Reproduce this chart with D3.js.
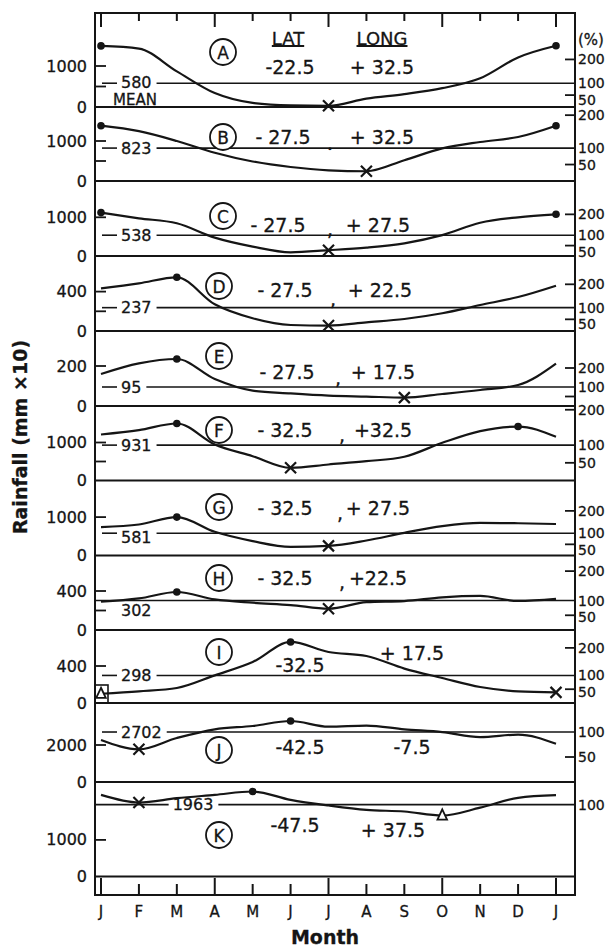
<!DOCTYPE html>
<html>
<head>
<meta charset="utf-8">
<script src="https://cdn.jsdelivr.net/npm/d3@7"></script>
<style>
  body { margin: 0; background: #fff; }
  svg text { font-family: "DejaVu Sans", "Liberation Sans", Arial, sans-serif; fill: #151515; stroke: #151515; stroke-width: 0.3; }
</style>
</head>
<body>
<svg id="chart" width="616" height="947"></svg>
<script>
// ---- data (mm x10 per month, J..J) ----
var months = ["J","F","M","A","M","J","J","A","S","O","N","D","J"];
var panels = ["A","B","C","D","E","F","G","H","I","J","K"];
var lats  = ["-22.5","- 27.5","- 27.5","- 27.5","- 27.5","- 32.5","- 32.5","- 32.5","-32.5","-42.5","-47.5"];
var longs = ["+ 32.5","+ 32.5","+ 27.5","+ 22.5","+ 17.5","+32.5","+ 27.5","+22.5","+ 17.5","-7.5","+ 37.5"];
var seps  = ["","\u2022",",",",",",",",",",",",","","",""];
var means = [580, 823, 538, 237, 95, 931, 581, 302, 298, 2702, 1963];

var rainA = [1490, 1425, 870, 340, 100, 40, 30, 205, 315, 460, 700, 1210, 1495];
var rainB = [1383, 1245, 1000, 707, 488, 350, 268, 244, 520, 815, 975, 1100, 1383];
var rainC = [1121, 974, 845, 475, 243, 96, 150, 217, 328, 538, 860, 1000, 1078];
var rainD = [433, 484, 545, 271, 129, 61, 55, 88, 122, 180, 264, 345, 460];
var rainE = [160, 213, 235, 135, 77, 63, 52, 47, 42, 60, 80, 105, 212];
var rainF = [1210, 1324, 1500, 947, 640, 334, 421, 508, 624, 992, 1300, 1420, 1150];
var rainG = [740, 807, 1000, 617, 375, 225, 250, 390, 591, 765, 851, 840, 820];
var rainH = [290, 324, 390, 314, 280, 256, 218, 285, 297, 335, 349, 298, 320];
var rainI = [100, 126, 162, 299, 443, 660, 551, 508, 372, 270, 173, 126, 115];
var rainJ = [2270, 1767, 2380, 2849, 3027, 3297, 2989, 3050, 2849, 2700, 2430, 2560, 2070];
var rainK = [2230, 2022, 2139, 2230, 2322, 2093, 1940, 1820, 1776, 1667, 1880, 2150, 2221];
var series = [rainA, rainB, rainC, rainD, rainE, rainF, rainG, rainH, rainI, rainJ, rainK];

var maxMonth = [[0,12],[0,12],[0,12],[2],[2],[2,11],[2],[2],[5],[5],[4]];
var minMonth = [[6],[7],[6],[6],[8],[5],[6],[6],[12],[1],[1]];
var triMonth = [[],[],[],[],[],[],[],[],[0],[],[9]];

var leftTicks  = [[1000,0],[1000,0],[1000,0],[400,0],[200,0],[1000,0],[1000,0],[400,0],[400,0],[2000,0],[1000,0]];
var minorTicks = [[500],[500],[],[200],[],[500],[],[200],[],[],[]];
var pctTicks   = [[200,100,50],[200,100,50],[200,100,50],[200,100,50],[200,100,50],[200,100,50],[200,100,50],[200,100,50],[200,100,50],[100,50],[100]];
var pctLabels  = [[200,100,50],[200,100,50],[200,100,50],[200,100,50],[200,100],[200,100,50],[200,100,50],[200,100,50],[200,100,50],[100,50],[100]];

// ---- layout ----
var frame = {l: 95, r: 575, t: 13, b: 895};
var zeroY     = [107, 181, 256, 331, 406, 480.5, 555.5, 630, 703, 782, 876.5];
var pxPer1000 = [41, 40, 38.7, 98.5, 200, 38, 38.4, 97.5, 92.5, 18.5, 36.6];
var circlePos = [[223,52],[223,137],[223,216],[219,286],[219,356],[219,430],[219,507],[219,578],[219,652],[219,750],[219,835]];
var latPos    = [[290,67],[283,137],[278,225],[285,290],[287,372],[285,430],[285,508],[285,578],[300,665],[300,747],[295,825]];
var longPos   = [[382,67],[382,137],[378,225],[380,290],[383,372],[383,430],[378,508],[378,578],[412,653],[412,747],[393,830]];
var sepPos    = [null,[330,149],[330,229],[333,299],[338,378],[342,435],[340,513],[342,582],null,null,null];
var meanDy    = [-1,0,0,0,0,0,4,10,0,0,0];

var ink = "#151515";
var svg = d3.select("#chart");

var x = d3.scaleLinear().domain([0, 12]).range([101, 556]);

// frame
svg.append("rect")
	.attr("x", frame.l).attr("y", frame.t)
	.attr("width", frame.r - frame.l).attr("height", frame.b - frame.t)
	.attr("fill", "none").attr("stroke", ink).attr("stroke-width", 2);

// month ticks top and bottom
months.forEach(function(m, i) {
	var big = i % 3 == 0;
	svg.append("line")
		.attr("x1", x(i)).attr("x2", x(i))
		.attr("y1", frame.t).attr("y2", frame.t + (big ? 14 : 8))
		.attr("stroke", ink).attr("stroke-width", 2);
	svg.append("line")
		.attr("x1", x(i)).attr("x2", x(i))
		.attr("y1", frame.b).attr("y2", frame.b - (big ? 17 : 11))
		.attr("stroke", ink).attr("stroke-width", 2);
	svg.append("text")
		.attr("x", x(i)).attr("y", 912)
		.attr("text-anchor", "middle").attr("dominant-baseline", "central")
		.attr("font-size", 15).text(m);
});

svg.append("text")
	.attr("x", 325).attr("y", 937)
	.attr("text-anchor", "middle").attr("dominant-baseline", "central")
	.attr("font-size", 19).attr("font-weight", "bold").text("Month");

svg.append("text")
	.attr("transform", "translate(20,437) rotate(-90)")
	.attr("text-anchor", "middle").attr("dominant-baseline", "central")
	.attr("font-size", 19).attr("font-weight", "bold").text("Rainfall (mm \u00d710)");

svg.append("text")
	.attr("x", 578).attr("y", 40)
	.attr("dominant-baseline", "central")
	.attr("font-size", 15).text("(%)");

// LAT / LONG header
[["LAT", 288], ["LONG", 382]].forEach(function(h) {
	var t = svg.append("text")
		.attr("x", h[1]).attr("y", 38)
		.attr("text-anchor", "middle").attr("dominant-baseline", "central")
		.attr("font-size", 18).text(h[0]);
	var w = t.node().getComputedTextLength();
	svg.append("line")
		.attr("x1", h[1] - w / 2).attr("x2", h[1] + w / 2)
		.attr("y1", 46).attr("y2", 46)
		.attr("stroke", ink).attr("stroke-width", 1.8);
});

panels.forEach(function(name, p) {
	var y = d3.scaleLinear().domain([0, 1000]).range([zeroY[p], zeroY[p] - pxPer1000[p]]);
	var g = svg.append("g");

	// zero line
	g.append("line")
		.attr("x1", frame.l).attr("x2", frame.r)
		.attr("y1", y(0)).attr("y2", y(0))
		.attr("stroke", ink).attr("stroke-width", 1.8);

	// left ticks + labels
	leftTicks[p].forEach(function(v) {
		if (v > 0) {
			g.append("line")
				.attr("x1", frame.l).attr("x2", frame.l + 11)
				.attr("y1", y(v)).attr("y2", y(v))
				.attr("stroke", ink).attr("stroke-width", 1.8);
		}
		g.append("text")
			.attr("x", 87).attr("y", y(v))
			.attr("text-anchor", "end").attr("dominant-baseline", "central")
			.attr("font-size", 16).text(v);
	});
	minorTicks[p].forEach(function(v) {
		g.append("line")
			.attr("x1", frame.l).attr("x2", frame.l + 11)
			.attr("y1", y(v)).attr("y2", y(v))
			.attr("stroke", ink).attr("stroke-width", 1.8);
	});

	// mean line with its label
	var my = y(means[p]);
	var lab = g.append("text")
		.attr("y", my + meanDy[p])
		.attr("dominant-baseline", "central")
		.attr("font-size", 16).text(means[p]);
	if (name == "K") lab.attr("x", 193).attr("text-anchor", "middle");
	else lab.attr("x", 121);
	var bb = lab.node().getBBox();
	if (name == "H") {
		g.append("line").attr("x1", frame.l).attr("x2", frame.r)
			.attr("y1", my).attr("y2", my).attr("stroke", ink).attr("stroke-width", 1.6);
	} else if (name == "K") {
		g.append("line").attr("x1", frame.l).attr("x2", bb.x - 4)
			.attr("y1", my).attr("y2", my).attr("stroke", ink).attr("stroke-width", 1.6);
		g.append("line").attr("x1", bb.x + bb.width + 5).attr("x2", frame.r)
			.attr("y1", my).attr("y2", my).attr("stroke", ink).attr("stroke-width", 1.6);
	} else {
		g.append("line").attr("x1", frame.l + 7).attr("x2", bb.x - 4)
			.attr("y1", my).attr("y2", my).attr("stroke", ink).attr("stroke-width", 1.6);
		g.append("line").attr("x1", bb.x + bb.width + 5).attr("x2", frame.r)
			.attr("y1", my).attr("y2", my).attr("stroke", ink).attr("stroke-width", 1.6);
	}
	if (name == "A") {
		g.append("text").attr("x", 113).attr("y", 99.5)
			.attr("dominant-baseline", "central")
			.attr("font-size", 15).text("MEAN");
	}

	// right percent ticks and labels (pushed apart so they don't collide)
	var lastY = -100;
	pctTicks[p].forEach(function(pc) {
		var ty = y(means[p] * pc / 100);
		if (pc != 100) {
			g.append("line")
				.attr("x1", frame.r - 10).attr("x2", frame.r)
				.attr("y1", ty).attr("y2", ty)
				.attr("stroke", ink).attr("stroke-width", 1.8);
		}
		if (pctLabels[p].indexOf(pc) >= 0) {
			var ly = Math.max(ty, lastY + 16.5);
			lastY = ly;
			g.append("text")
				.attr("x", 578).attr("y", ly)
				.attr("dominant-baseline", "central")
				.attr("font-size", 14).text(pc);
		}
	});

	// rainfall curve
	var line = d3.line()
		.x(function(d, i) { return x(i); })
		.y(function(d) { return y(d); })
		.curve(d3.curveMonotoneX);
	g.append("path")
		.datum(series[p])
		.attr("d", line)
		.attr("fill", "none")
		.attr("stroke", ink).attr("stroke-width", 2.2);

	// markers
	maxMonth[p].forEach(function(i) {
		g.append("circle")
			.attr("cx", x(i)).attr("cy", y(series[p][i])).attr("r", 3.8)
			.attr("fill", ink);
	});
	minMonth[p].forEach(function(i) {
		var cx = x(i), cy = y(series[p][i]), s = 5.5;
		g.append("path")
			.attr("d", "M" + (cx - s) + "," + (cy - s) + "L" + (cx + s) + "," + (cy + s) +
				"M" + (cx - s) + "," + (cy + s) + "L" + (cx + s) + "," + (cy - s))
			.attr("stroke", ink).attr("stroke-width", 2.2).attr("fill", "none");
	});
	triMonth[p].forEach(function(i) {
		var cx = x(i), cy = y(series[p][i]), s = 6;
		g.append("path")
			.attr("d", "M" + cx + "," + (cy - s) + "L" + (cx + s * 0.8) + "," + (cy + s * 0.7) +
				"L" + (cx - s * 0.8) + "," + (cy + s * 0.7) + "Z")
			.attr("fill", "#fff").attr("stroke", ink).attr("stroke-width", 1.8);
		if (name == "I") {
			g.append("rect")
				.attr("x", frame.l).attr("y", y(0) - 18)
				.attr("width", 13).attr("height", 18)
				.attr("fill", "none").attr("stroke", ink).attr("stroke-width", 1.6);
		}
	});

	// circled panel letter, lat / long
	g.append("circle")
		.attr("cx", circlePos[p][0]).attr("cy", circlePos[p][1]).attr("r", 13)
		.attr("fill", "#fff").attr("stroke", ink).attr("stroke-width", 1.8);
	g.append("text")
		.attr("x", circlePos[p][0]).attr("y", circlePos[p][1] + 1)
		.attr("text-anchor", "middle").attr("dominant-baseline", "central")
		.attr("font-size", 17).text(name);
	g.append("text")
		.attr("x", latPos[p][0]).attr("y", latPos[p][1])
		.attr("text-anchor", "middle").attr("dominant-baseline", "central")
		.attr("font-size", 19).text(lats[p]);
	g.append("text")
		.attr("x", longPos[p][0]).attr("y", longPos[p][1])
		.attr("text-anchor", "middle").attr("dominant-baseline", "central")
		.attr("font-size", 19).text(longs[p]);
	if (sepPos[p]) {
		g.append("text")
			.attr("x", sepPos[p][0]).attr("y", sepPos[p][1])
			.attr("text-anchor", "middle").attr("dominant-baseline", "central")
			.attr("font-size", seps[p] == "," ? 19 : 9).text(seps[p]);
	}
});
</script>
</body>
</html>
